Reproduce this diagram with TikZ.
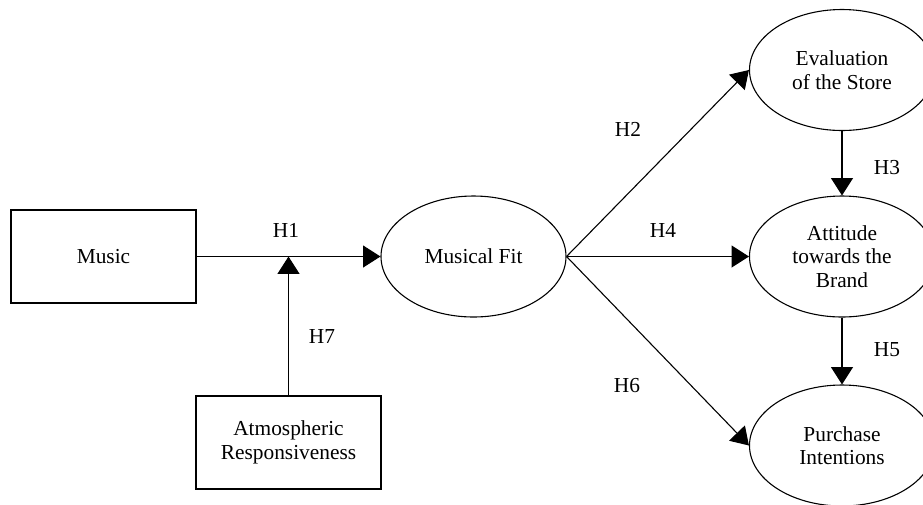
\documentclass[tikz,border=0pt]{standalone}
\usepackage{fontspec}
\setmainfont{Liberation Serif}
\usepackage{tikz}
\usetikzlibrary{positioning,arrows.meta,shapes.geometric}

\begin{document}
\begin{tikzpicture}[
  x=0.55pt, y=-0.55pt,
  font=\fontsize{11.75}{13}\selectfont,
  line width=0.6pt,
  box/.style={draw, rectangle, minimum width=101.75pt, minimum height=51.15pt, inner sep=0pt, align=center},
  latent/.style={draw, ellipse, minimum width=101.75pt, minimum height=66.55pt, inner sep=0pt, align=center},
  arr/.style={-{Triangle[length=9.5pt,width=12pt]}},
  hyp/.style={inner sep=1pt},
]
\useasboundingbox (0,0) rectangle (923,504);

% constructs
\node[box] (music) at (103.5,256.5) {Music};
\node[box] (atmo) at (288.5,442.5) {Atmospheric\\Responsiveness};
\node[latent] (fit) at (473.5,256.5) {Musical Fit};
\node[latent] (store) at (842,70) {Evaluation\\of the Store};
\node[latent] (brand) at (842,256.5) {Attitude\\towards the\\Brand};
\node[latent] (buy) at (842,445.5) {Purchase\\Intentions};

% paths
\coordinate (mod) at (atmo.north |- music.east);
\draw[arr] (music) -- (fit);
\draw[arr] (atmo) -- (mod);
\draw[arr] (fit.east) -- (store.west);
\draw[arr] (fit.east) -- (brand.west);
\draw[arr] (fit.east) -- (buy.west);
\draw[arr] (store) -- (brand);
\draw[arr] (brand) -- (buy);

% hypotheses
\node[hyp] (h1) at (286,230) {H1};
\node[hyp] (h2) at (628,129) {H2};
\node[hyp] (h3) at (887,168) {H3};
\node[hyp] (h4) at (663,230) {H4};
\node[hyp] (h5) at (887,350) {H5};
\node[hyp] (h6) at (627,386) {H6};
\node[hyp] (h7) at (322,336) {H7};
\end{tikzpicture}
\end{document}
